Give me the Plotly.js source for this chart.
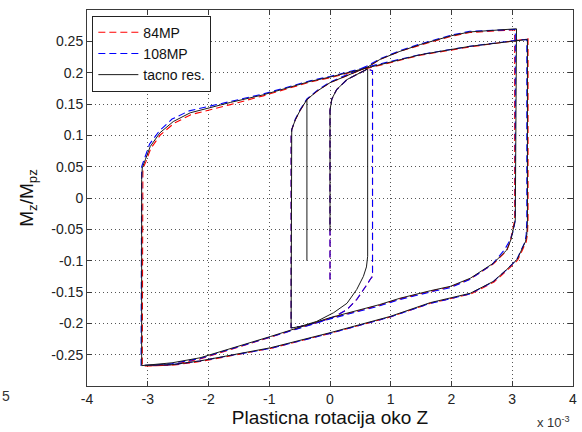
<!DOCTYPE html>
<html>
<head>
<meta charset="utf-8">
<script src="https://cdn.plot.ly/plotly-3.0.1.min.js"></script>
<style>html,body{margin:0;padding:0;background:#fff;}#chart{width:582px;height:432px;}</style>
</head>
<body>
<div id="chart"></div>
<script>
// x values in units of 10^-3 (plastic rotation), y = Mz/Mpz
const seriesNames = ["84MP", "108MP", "tacno res."];

const xRed = [0, 0, 0.03, 0.11, 0.28, 0.5, 0.62, 0.70, 0.70, 0.66, 0.61, 0.44, 0.28, 0.06, -0.22, -0.49, -0.64, -0.64, -0.63, -0.57, -0.49, -0.38, -0.22, 0, 0.33, 0.62, 0.82, 1.15, 1.49, 2.0, 2.3, 2.7, 3.04, 3.04, 3.01, 2.97, 2.91, 2.69, 2.31, 1.98, 1.65, 1.15, 0.82, 0, -0.98, -2.14, -2.6, -2.9, -3.09, -3.09, -3.08, -3.03, -2.95, -2.79, -2.57, -2.29, -1.91, -1.64, -1.1, -0.33, 0, 0.82, 1.49, 2.3, 3.13, 3.2, 3.26, 3.26, 3.25, 3.23, 3.09, 2.92, 2.7, 2.32, 1.98, 1.65, 0.99, 0, -0.98, -2.14, -2.6, -3.05];
const yRed = [-0.13, 0.14, 0.158, 0.173, 0.189, 0.2, 0.206, 0.203, -0.125, -0.13, -0.138, -0.162, -0.178, -0.19, -0.199, -0.205, -0.207, 0.098, 0.109, 0.125, 0.14, 0.157, 0.17, 0.184, 0.197, 0.209, 0.221, 0.234, 0.244, 0.258, 0.264, 0.267, 0.2685, -0.035, -0.05, -0.068, -0.084, -0.105, -0.129, -0.142, -0.149, -0.161, -0.171, -0.192, -0.222, -0.257, -0.266, -0.268, -0.268, 0.03, 0.047, 0.058, 0.079, 0.101, 0.119, 0.133, 0.143, 0.149, 0.163, 0.185, 0.192, 0.212, 0.228, 0.241, 0.252, 0.2535, 0.254, -0.035, -0.058, -0.07, -0.099, -0.115, -0.134, -0.153, -0.161, -0.168, -0.19, -0.216, -0.24, -0.261, -0.267, -0.268];

const xBlue = [0, 0, 0.03, 0.11, 0.28, 0.5, 0.62, 0.70, 0.70, 0.66, 0.61, 0.44, 0.28, 0.06, -0.22, -0.49, -0.64, -0.64, -0.63, -0.57, -0.49, -0.38, -0.22, 0, 0.33, 0.62, 0.82, 1.15, 1.49, 2.0, 2.3, 2.7, 3.05, 3.05, 3.02, 2.96, 2.87, 2.67, 2.3, 1.98, 1.65, 1.15, 0.82, 0, -0.98, -2.14, -2.6, -2.9, -3.11, -3.11, -3.1, -3.05, -2.97, -2.81, -2.6, -2.32, -1.94, -1.64, -1.1, -0.33, 0, 0.82, 1.49, 2.3, 3.13, 3.24, 3.24, 3.23, 3.21, 3.07, 2.9, 2.68, 2.3, 1.98, 1.65, 0.99, 0, -0.98, -2.14, -2.6, -3.05];
const yBlue = [-0.13, 0.14, 0.158, 0.173, 0.189, 0.2, 0.206, 0.203, -0.125, -0.13, -0.138, -0.162, -0.178, -0.19, -0.199, -0.205, -0.207, 0.098, 0.109, 0.126, 0.141, 0.158, 0.171, 0.185, 0.199, 0.211, 0.222, 0.235, 0.246, 0.26, 0.266, 0.268, 0.269, -0.035, -0.052, -0.068, -0.083, -0.106, -0.13, -0.143, -0.15, -0.162, -0.172, -0.193, -0.222, -0.256, -0.264, -0.2665, -0.267, 0.03, 0.05, 0.064, 0.086, 0.107, 0.126, 0.139, 0.148, 0.154, 0.166, 0.187, 0.194, 0.214, 0.229, 0.242, 0.2525, 0.253, -0.035, -0.058, -0.07, -0.099, -0.115, -0.134, -0.153, -0.161, -0.168, -0.19, -0.216, -0.24, -0.26, -0.266, -0.267];

const xBlack = [-0.38, -0.38, null, 0, 0, 0.03, 0.11, 0.28, 0.5, 0.62, 0.62, 0.6, 0.55, 0.44, 0.28, 0.06, -0.22, -0.49, -0.64, -0.64, -0.63, -0.57, -0.49, -0.38, -0.22, 0, 0.33, 0.62, 0.82, 1.15, 1.49, 2.0, 2.3, 2.7, 3.07, 3.05, 3.02, 2.98, 2.91, 2.69, 2.31, 1.98, 1.65, 1.15, 0.82, 0, -0.98, -2.14, -2.6, -2.9, -3.1, -3.1, -3.09, -3.04, -2.96, -2.8, -2.58, -2.3, -1.92, -1.64, -1.1, -0.33, 0, 0.82, 1.49, 2.3, 3.13, 3.25, 3.25, 3.24, 3.22, 3.08, 2.91, 2.69, 2.31, 1.98, 1.65, 0.99, 0, -0.98, -2.14, -2.6, -3.05];
const yBlack = [-0.1, 0.157, null, -0.053, 0.14, 0.158, 0.173, 0.189, 0.2, 0.206, -0.093, -0.11, -0.125, -0.146, -0.168, -0.183, -0.197, -0.205, -0.2075, 0.098, 0.109, 0.125, 0.14, 0.157, 0.17, 0.184, 0.197, 0.209, 0.221, 0.234, 0.245, 0.259, 0.265, 0.268, 0.27, -0.035, -0.05, -0.066, -0.083, -0.104, -0.128, -0.141, -0.148, -0.16, -0.17, -0.191, -0.221, -0.255, -0.263, -0.266, -0.2675, 0.03, 0.048, 0.061, 0.082, 0.104, 0.122, 0.136, 0.146, 0.1525, 0.1646, 0.186, 0.193, 0.213, 0.2287, 0.242, 0.2526, 0.253, -0.035, -0.058, -0.069, -0.098, -0.114, -0.133, -0.152, -0.16, -0.167, -0.189, -0.215, -0.239, -0.26, -0.266, -0.267];

const xTickVals = [-4, -3, -2, -1, 0, 1, 2, 3, 4];
const xTickText = ["-4", "-3", "-2", "-1", "0", "1", "2", "3", "4"];
const yTickVals = [-0.25, -0.2, -0.15, -0.1, -0.05, 0, 0.05, 0.1, 0.15, 0.2, 0.25];
const yTickText = ["-0.25", "-0.2", "-0.15", "-0.1", "-0.05", "0", "0.05", "0.1", "0.15", "0.2", "0.25"];

const FONT = "Liberation Sans, Arial, sans-serif";
const dashPat = "7px,4px";

const traces = [
  {x: xRed, y: yRed, name: seriesNames[0], type: "scatter", mode: "lines", legendrank: 1,
   line: {color: "#ff0000", width: 1.1, dash: dashPat}},
  {x: xBlue, y: yBlue, name: seriesNames[1], type: "scatter", mode: "lines", legendrank: 2,
   line: {color: "#0000ff", width: 1.1, dash: dashPat}},
  {x: xBlack, y: yBlack, name: seriesNames[2], type: "scatter", mode: "lines", legendrank: 3,
   connectgaps: false, line: {color: "#1a1a1a", width: 1}}
];

const axisCommon = {
  showline: true, linecolor: "#3a3a3a", linewidth: 1, mirror: "ticks",
  ticks: "inside", ticklen: 5, tickcolor: "#3a3a3a", tickwidth: 1,
  showgrid: true, gridcolor: "#555", gridwidth: 1, griddash: "1px,3px",
  zeroline: false, tickfont: {family: FONT, size: 14, color: "#222"}
};

const layout = {
  width: 582, height: 432,
  margin: {l: 87, r: 9, t: 10, b: 46},
  paper_bgcolor: "#ffffff", plot_bgcolor: "#ffffff",
  showlegend: true,
  legend: {x: 0.011, y: 0.985, xanchor: "left", yanchor: "top", itemwidth: 40,
    bgcolor: "#ffffff", bordercolor: "#222", borderwidth: 1,
    font: {family: FONT, size: 14, color: "#111"}, tracegroupgap: 0},
  xaxis: Object.assign({}, axisCommon, {
    range: [-4, 4], tickvals: xTickVals, ticktext: xTickText,
    title: {text: "Plasticna rotacija oko Z", font: {family: FONT, size: 19, color: "#111"}, standoff: 4}
  }),
  yaxis: Object.assign({}, axisCommon, {
    range: [-0.3, 0.3], tickvals: yTickVals, ticktext: yTickText,
    title: {text: "M<sub>z</sub>/M<sub>pz</sub>", font: {family: FONT, size: 19, color: "#111"}, standoff: 12}
  }),
  annotations: [
    {text: "x 10<sup>-3</sup>", xref: "paper", yref: "paper", x: 0.922, y: -0.095,
     xanchor: "left", yanchor: "middle", showarrow: false, font: {family: FONT, size: 13, color: "#333"}},
    {text: "5", xref: "paper", yref: "paper", x: -0.1668, y: -0.027,
     xanchor: "center", yanchor: "middle", showarrow: false, font: {family: FONT, size: 14, color: "#333"}}
  ]
};

Plotly.newPlot("chart", traces, layout, {displayModeBar: false, staticPlot: true});
</script>
</body>
</html>
